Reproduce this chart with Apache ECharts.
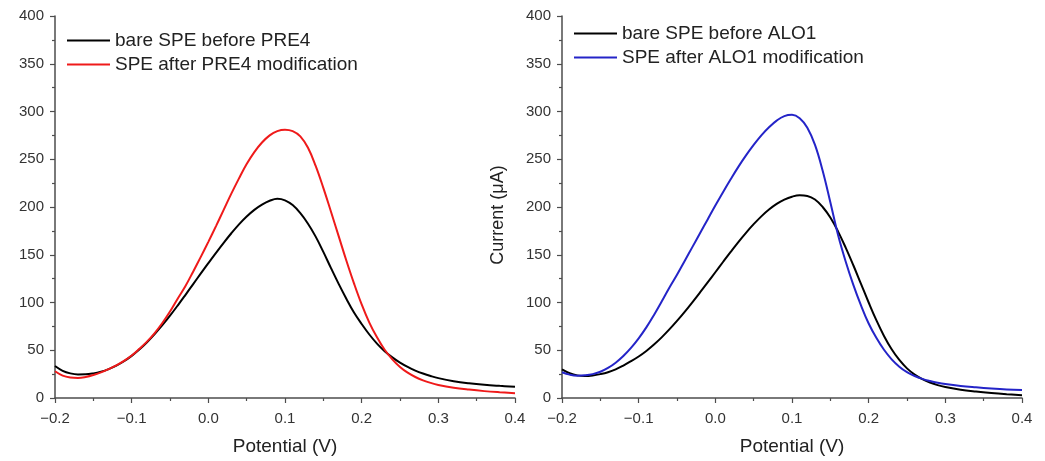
<!DOCTYPE html>
<html>
<head>
    <meta charset="utf-8">
    <title>SPE modification</title>
    <script type="text/javascript" src="https://cdn.jsdelivr.net/npm/echarts@6/dist/echarts.min.js"></script>
    <style>
        html, body { margin: 0; padding: 0; background: #fff; }
    </style>
</head>
<body>

<div id="main" style="width: 1045px;height: 461px;"></div>

<script type="text/javascript">

    // potential (V), shared by both panels
    var potential = [
        -0.20, -0.19, -0.18, -0.17, -0.16, -0.15, -0.14, -0.13, -0.12, -0.11,
        -0.10, -0.09, -0.08, -0.07, -0.06, -0.05, -0.04, -0.03, -0.02, -0.01,
        0.00, 0.01, 0.02, 0.03, 0.04, 0.05, 0.06, 0.07, 0.08, 0.09,
        0.10, 0.11, 0.12, 0.13, 0.14, 0.15, 0.16, 0.17, 0.18, 0.19,
        0.20, 0.21, 0.22, 0.23, 0.24, 0.25, 0.26, 0.27, 0.28, 0.29,
        0.30, 0.32, 0.34, 0.36, 0.38, 0.40
    ];

    // left panel: current (uA)
    var bareBeforePre4 = [
        33.5, 28.5, 25.8, 24.7, 24.8, 25.8, 27.6, 30.3, 33.9, 38.5,
        44.1, 50.7, 58.3, 66.9, 76.2, 86.2, 96.8, 107.8, 119, 130.2,
        141.2, 152, 162.5, 172.5, 181.8, 190, 197, 202.5, 206.5, 208.6,
        207, 202, 193.5, 182.5, 169, 153, 136, 119.5, 104, 89.5,
        77.5, 66.5, 57, 49, 42.5, 37, 32.5, 28.7, 25.6, 23,
        20.8, 17.6, 15.4, 13.8, 12.7, 11.8
    ];
    var afterPre4 = [
        28, 23.5, 21.5, 21, 22, 24, 26.8, 30.3, 34.2, 38.8,
        44.5, 51.5, 59, 68, 78.5, 90.5, 104, 117, 132, 147.5,
        163.5, 180, 197, 214, 230, 245, 257.5, 267.5, 275, 279.5,
        281, 279.5, 274, 262, 243, 220, 195, 169.5, 144, 120,
        98, 79, 63.5, 50.5, 40.5, 32.5, 26.5, 22, 18.5, 15.8,
        13.7, 10.8, 8.8, 7.2, 6, 5
    ];

    // right panel: current (uA)
    var bareBeforeAlo1 = [
        30, 26, 23.7, 23, 23.6, 25, 27, 30, 34, 38.5,
        43.5, 49.3, 56, 63.5, 71.8, 80.7, 90.2, 100.2, 110.5, 121,
        131.7, 142.4, 153, 163.3, 173, 182, 190.2, 197.3, 203.2, 207.7,
        210.8, 212.3, 211.6, 207.8, 200, 189, 174.5, 157.5, 139, 119.5,
        100, 81.5, 65, 51, 39.8, 31, 24.5, 19.8, 16.2, 13.5,
        11.5, 8.6, 6.7, 5.2, 4, 3
    ];
    var afterAlo1 = [
        27, 24.5, 23.4, 23.8, 25, 27.5, 31.5, 37, 44, 52.5,
        62.5, 74, 87, 101, 115.5, 129, 143.5, 158, 172.5, 187,
        201.5, 215.5, 229, 242, 254, 265, 275, 283.5, 290.5, 295.2,
        296.5, 293, 283, 265, 238, 205, 171, 143, 118.5, 97,
        78, 63, 50.5, 40.5, 32.8, 27, 23, 20, 17.8, 16,
        14.6, 12.6, 11.2, 10, 9, 8.3
    ];

    var namesLeft = ['bare SPE before PRE4', 'SPE after PRE4 modification'];
    var namesRight = ['bare SPE before ALO1', 'SPE after ALO1 modification'];

    function pairs(ys) {
        var out = [];
        for (var i = 0; i < potential.length; i++) {
            out.push([potential[i], ys[i]]);
        }
        return out;
    }

    var font = 'Liberation Sans, Arial, sans-serif';
    var axisGray = '#4d4d4d';

    function xAxis(idx) {
        return {
            type: 'value', gridIndex: idx,
            min: -0.2, max: 0.4, interval: 0.1,
            name: 'Potential (V)', nameLocation: 'middle', nameGap: 39,
            nameTextStyle: {fontFamily: font, fontSize: 19, color: '#222'},
            axisLine: {onZero: false, lineStyle: {color: axisGray, width: 1.5}},
            axisTick: {length: 5, lineStyle: {color: axisGray, width: 1.2}},
            minorTick: {show: true, splitNumber: 2, length: 3, lineStyle: {color: axisGray, width: 1.2}},
            splitLine: {show: false},
            axisLabel: {
                fontFamily: font, fontSize: 15, color: '#333', margin: 13,
                formatter: function (v) { return v.toFixed(1).replace('-', '\u2212'); }
            }
        };
    }

    function yAxis(idx, title) {
        return {
            type: 'value', gridIndex: idx,
            min: 0, max: 400, interval: 50,
            name: title, nameLocation: 'middle', nameGap: 55,
            nameTextStyle: {fontFamily: font, fontSize: 18, color: '#222', padding: [0, 0, 0, -16]},
            axisLine: {show: true, onZero: false, lineStyle: {color: axisGray, width: 1.5}},
            axisTick: {show: true, length: 5, lineStyle: {color: axisGray, width: 1.2}},
            minorTick: {show: true, splitNumber: 2, length: 3, lineStyle: {color: axisGray, width: 1.2}},
            splitLine: {show: false},
            axisLabel: {fontFamily: font, fontSize: 15, color: '#333', margin: 11}
        };
    }

    function line(name, ys, color, idx) {
        return {
            name: name, type: 'line',
            xAxisIndex: idx, yAxisIndex: idx,
            data: pairs(ys),
            symbol: 'none', smooth: 0.4,
            lineStyle: {color: color, width: 2},
            itemStyle: {color: color}
        };
    }

    function legend(names, left, top) {
        return {
            data: names, orient: 'vertical', left: left, top: top,
            padding: 0, icon: 'rect',
            itemWidth: 43, itemHeight: 2, itemGap: 5,
            textStyle: {fontFamily: font, fontSize: 19, color: '#222'}
        };
    }

    var myChart = echarts.init(document.getElementById('main'));

    myChart.setOption({
        animation: false,
        backgroundColor: '#fff',
        legend: [
            legend(namesLeft, 67, 31),
            legend(namesRight, 574, 24)
        ],
        grid: [
            {left: 55, top: 16, width: 460, height: 383},
            {left: 562, top: 16, width: 460, height: 383}
        ],
        xAxis: [xAxis(0), xAxis(1)],
        yAxis: [yAxis(0, ''), yAxis(1, 'Current (\u03bcA)')],
        series: [
            line(namesLeft[0], bareBeforePre4, '#000000', 0),
            line(namesLeft[1], afterPre4, '#ef1a1a', 0),
            line(namesRight[0], bareBeforeAlo1, '#000000', 1),
            line(namesRight[1], afterAlo1, '#2424c8', 1)
        ]
    });

</script>

</body>
</html>
